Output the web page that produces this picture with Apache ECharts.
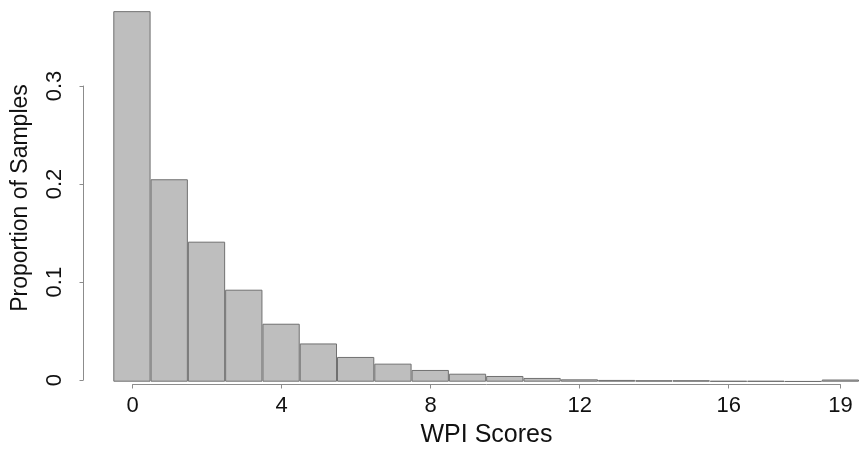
<!DOCTYPE html>
<html>
<head>
<meta charset="utf-8">
<script src="https://cdn.jsdelivr.net/npm/echarts@6/dist/echarts.min.js"></script>
<style>
html,body{margin:0;padding:0;background:#fff;}
#chart{width:861px;height:453px;}
</style>
</head>
<body>
<div id="chart"></div>
<script>
var categories = ['0','1','2','3','4','5','6','7','8','9','10','11','12','13','14','15','16','17','18','19'];
var proportions = [0.3758, 0.2053, 0.1420, 0.0933, 0.0588, 0.0388, 0.0251, 0.0183, 0.0119, 0.0081, 0.0058, 0.0038, 0.0024, 0.0018, 0.0015, 0.0015, 0.0008, 0.0008, 0.0005, 0.0022];
var xTickMin = 0, xTickMax = 19, xTickStep = 4;
var yTickMin = 0, yTickMax = 0.3, yTickStep = 0.1;
var xTitle = 'WPI Scores';
var yTitle = 'Proportion of Samples';

var FONT = "'Liberation Sans', Arial, sans-serif";
var TXT = '#111111';
var AX = '#8c8c8c';

var chart = echarts.init(document.getElementById('chart'), null, {renderer: 'canvas'});
chart.setOption({
  animation: false,
  backgroundColor: '#ffffff',
  grid: [
    {left: 113.3, right: 2, top: 7, bottom: 71.3},
    {left: 132.6, right: 20.6, top: 86, bottom: 71.3}
  ],
  xAxis: [
    {
      type: 'category', gridIndex: 0, data: categories,
      boundaryGap: true,
      axisLine: {show: false}, axisTick: {show: false}, axisLabel: {show: false}, splitLine: {show: false}
    },
    {
      type: 'value', gridIndex: 1,
      min: xTickMin, max: xTickMax, interval: xTickStep,
      offset: 4.3,
      axisLine: {show: true, onZero: false, lineStyle: {color: AX, width: 1}},
      axisTick: {show: true, length: 4, lineStyle: {color: AX, width: 1}},
      axisLabel: {show: true, margin: 10, color: TXT, fontSize: 22, fontFamily: FONT},
      splitLine: {show: false},
      name: xTitle, nameLocation: 'middle', nameGap: 38.5,
      nameTextStyle: {color: TXT, fontSize: 25, fontFamily: FONT}
    }
  ],
  yAxis: [
    {
      type: 'value', gridIndex: 0, min: 0, max: 0.38,
      axisLine: {show: false}, axisTick: {show: false}, axisLabel: {show: false}, splitLine: {show: false}
    },
    {
      type: 'value', gridIndex: 1, min: yTickMin, max: yTickMax, interval: yTickStep,
      offset: 49.6,
      axisLine: {show: true, onZero: false, lineStyle: {color: AX, width: 1}},
      axisTick: {show: true, length: 3.5, lineStyle: {color: AX, width: 1}},
      axisLabel: {show: true, rotate: 90, margin: 17.5, color: TXT, fontSize: 22, fontFamily: FONT},
      splitLine: {show: false}
    }
  ],
  graphic: [
    {
      type: 'text', x: 20.3, y: 198, rotation: Math.PI / 2,
      style: {text: yTitle, fill: TXT, font: '23px ' + FONT, textAlign: 'center', textVerticalAlign: 'middle'}
    }
  ],
  series: [
    {
      type: 'bar', xAxisIndex: 0, yAxisIndex: 0,
      data: proportions,
      barCategoryGap: '0%',
      itemStyle: {color: '#bebebe', borderColor: '#707070', borderWidth: 1},
      emphasis: {disabled: true},
      silent: true
    }
  ]
});
</script>
</body>
</html>
